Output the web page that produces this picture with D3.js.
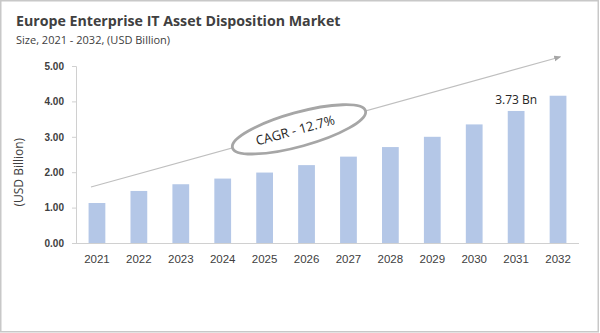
<!DOCTYPE html>
<html>
<head>
<meta charset="utf-8">
<script src="https://cdn.jsdelivr.net/npm/d3@7"></script>
<style>
  body { margin: 0; background: #fff; }
  svg { display: block; font-family: "Open Sans", "Noto Sans", sans-serif; }
</style>
</head>
<body>
<div id="chart"></div>
<script>
var years = ['2021','2022','2023','2024','2025','2026','2027','2028','2029','2030','2031','2032'];
var values = [1.13, 1.47, 1.66, 1.82, 1.99, 2.20, 2.44, 2.71, 3.00, 3.35, 3.73, 4.16];
var yTicks = [0, 1, 2, 3, 4, 5];
var title = 'Europe Enterprise IT Asset Disposition Market';
var subtitle = 'Size, 2021 - 2032, (USD Billion)';
var yLabel = '(USD Billion)';
var cagrText = 'CAGR - 12.7%';
var callout = { year: '2031', text: '3.73 Bn' };

var width = 600, height = 333;
var margin = { top: 66, right: 21, bottom: 90, left: 76 };

var svg = d3.select('#chart').append('svg')
  .attr('width', width)
  .attr('height', height);

// frame
svg.append('rect')
  .attr('x', 0.75).attr('y', 0.75)
  .attr('width', width - 2.5).attr('height', height - 2)
  .attr('fill', '#fff')
  .attr('stroke', '#c8c8c8')
  .attr('stroke-width', 1.5);

var x = d3.scaleBand()
  .domain(years)
  .range([margin.left, width - margin.right])
  .paddingInner(0.6)
  .paddingOuter(0.3);

var y = d3.scaleLinear()
  .domain([0, 5])
  .range([height - margin.bottom, margin.top]);

// titles
svg.append('text')
  .attr('x', 16).attr('y', 26)
  .style('font-size', '14.2px')
  .style('font-weight', 'bold')
  .style('fill', '#404040')
  .text(title);

svg.append('text')
  .attr('x', 16).attr('y', 44)
  .style('font-size', '11px')
  .style('fill', '#404040')
  .text(subtitle);

// y axis
var yAxis = svg.append('g')
  .attr('transform', 'translate(' + margin.left + ',0)')
  .call(d3.axisLeft(y).tickValues(yTicks).tickFormat(d3.format('.2f')).tickSize(4).tickPadding(8));
yAxis.select('.domain').attr('stroke', '#d0d0d0');
yAxis.selectAll('.tick line').attr('stroke', '#d0d0d0');
yAxis.selectAll('text')
  .style('font-size', '10px')
  .style('font-weight', '600')
  .style('fill', '#404040');

// x axis
var xAxis = svg.append('g')
  .attr('transform', 'translate(0,' + (height - margin.bottom) + ')')
  .call(d3.axisBottom(x).tickSize(0).tickPadding(12));
xAxis.select('.domain').attr('stroke', '#d0d0d0').attr('d', 'M' + margin.left + ',0.5H' + (width - margin.right));
xAxis.selectAll('text')
  .style('font-size', '11.5px')
  .style('fill', '#404040');

svg.append('text')
  .attr('transform', 'translate(23,' + y(2) + ') rotate(-90)')
  .attr('text-anchor', 'middle')
  .style('font-size', '12px')
  .style('fill', '#404040')
  .text(yLabel);

// bars
svg.selectAll('.bar')
  .data(values)
  .enter().append('rect')
  .attr('class', 'bar')
  .attr('x', function(d, i) { return x(years[i]); })
  .attr('width', x.bandwidth())
  .attr('y', function(d) { return y(d); })
  .attr('height', function(d) { return y(0) - y(d); })
  .attr('fill', '#b4c7e7');

// callout label
svg.append('text')
  .attr('x', x(callout.year) + x.bandwidth() / 2)
  .attr('y', y(values[years.indexOf(callout.year)]) - 7)
  .attr('text-anchor', 'middle')
  .style('font-size', '12px')
  .style('fill', '#262626')
  .text(callout.text);

// CAGR arrow
var defs = svg.append('defs');
defs.append('marker')
  .attr('id', 'arrow')
  .attr('viewBox', '0 0 10 10')
  .attr('refX', 8).attr('refY', 5)
  .attr('markerWidth', 6).attr('markerHeight', 6)
  .attr('orient', 'auto')
  .append('path')
  .attr('d', 'M0,1L10,5L0,9Z')
  .attr('fill', '#a6a6a6');

var a0 = [91, 187], a1 = [560, 57];
svg.append('line')
  .attr('x1', a0[0]).attr('y1', a0[1])
  .attr('x2', a1[0]).attr('y2', a1[1])
  .attr('stroke', '#bfbfbf')
  .attr('stroke-width', 1.2)
  .attr('marker-end', 'url(#arrow)');

var angle = Math.atan2(a1[1] - a0[1], a1[0] - a0[0]) * 180 / Math.PI;
var cx = 299, cy = a0[1] + (cx - a0[0]) * (a1[1] - a0[1]) / (a1[0] - a0[0]);
var g = svg.append('g').attr('transform', 'translate(' + cx + ',' + cy + ') rotate(' + angle + ')');
g.append('ellipse')
  .attr('rx', 69).attr('ry', 17)
  .attr('fill', '#fff')
  .attr('stroke', '#a6a6a6')
  .attr('stroke-width', 2.8);
g.append('text')
  .attr('x', -4).attr('y', 4.5)
  .attr('text-anchor', 'middle')
  .style('font-size', '13px')
  .style('fill', '#262626')
  .text(cagrText);
</script>
</body>
</html>
